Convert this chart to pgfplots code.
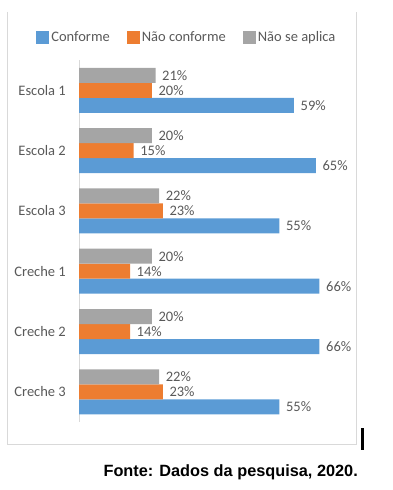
\documentclass[border=0pt]{standalone}
\usepackage{pgfplots}
\pgfplotsset{compat=1.18}
\usepackage{fontspec}
\setmainfont{Carlito}
\newfontfamily\arialfont{Liberation Sans}
\definecolor{cblue}{HTML}{5B9BD5}
\definecolor{corange}{HTML}{ED7D31}
\definecolor{cgray}{HTML}{A5A5A5}
\definecolor{textgray}{HTML}{595959}
\definecolor{framegray}{HTML}{D9D9D9}
\newcommand\lbl{\fontsize{14.5bp}{16bp}\selectfont}
\pgfplotsset{sq/.style={legend image code/.code={\fill[#1] (0bp,-6.5bp) rectangle (13bp,6.5bp);}}}
\begin{document}
\begin{tikzpicture}
\path (0,0) rectangle (393bp,490bp);
\draw[framegray, line width=1bp] (7.5bp,478bp) -- (7.5bp,45bp) -- (356.5bp,45bp) -- (356.5bp,478bp);
\begin{axis}[
  at={(79bp,68bp)}, anchor=south west,
  scale only axis, width=273.3bp, height=361.8bp,
  xmin=0, xmax=75, ymin=-0.5, ymax=5.5,
  xbar,
  axis x line=none, axis y line=left,
  y axis line style={-, framegray, line width=0.8bp},
  ytick={0,...,5},
  yticklabels={Creche 3,Creche 2,Creche 1,Escola 3,Escola 2,Escola 1},
  major tick length=0pt,
  yticklabel style={font=\lbl, text=textgray, inner sep=0pt, xshift=-13bp},
  clip=false,
  nodes near coords={\pgfmathprintnumber{\pgfplotspointmeta}\%},
  nodes near coords align={horizontal},
  every node near coord/.append style={font=\lbl, text=textgray, inner sep=0pt, xshift=6.5bp},
  /pgf/number format/assume math mode=true,
  legend columns=3,
  legend style={draw=none, fill=none, inner sep=0pt, font=\lbl, text=textgray,
    at={(-0.157,1.064)}, anchor=west,
    /tikz/every even column/.append style={column sep=15bp},
    nodes={inner xsep=2bp, inner ysep=0pt}},
]
\addplot[bar width=15bp, bar shift=-15bp, fill=cblue, draw=none, sq=cblue]
  coordinates {(59,5) (65,4) (55,3) (66,2) (66,1) (55,0)};
\addlegendentry{Conforme}
\addplot[bar width=15bp, bar shift=0bp, fill=corange, draw=none, sq=corange]
  coordinates {(20,5) (15,4) (23,3) (14,2) (14,1) (23,0)};
\addlegendentry{Não conforme}
\addplot[bar width=15bp, bar shift=15bp, fill=cgray, draw=none, sq=cgray]
  coordinates {(21,5) (20,4) (22,3) (20,2) (20,1) (22,0)};
\addlegendentry{Não se aplica}
\end{axis}
\fill[black] (361bp,39.5bp) rectangle (363.8bp,62bp);
\node[anchor=base east, inner sep=0pt, font=\arialfont\fontsize{16.3bp}{18bp}\selectfont\bfseries] at (358bp,13.3bp) {Fonte: Dados da pesquisa, 2020.};
\end{tikzpicture}
\end{document}
